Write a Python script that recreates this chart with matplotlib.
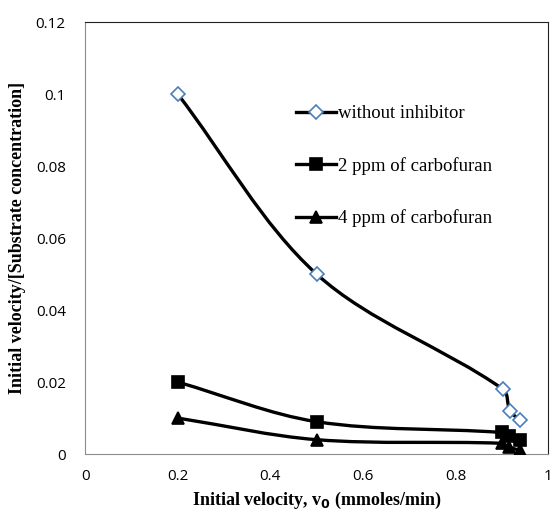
import numpy as np
import matplotlib
matplotlib.use("Agg")
import matplotlib.pyplot as plt
from matplotlib.path import Path
from matplotlib.patches import PathPatch
from matplotlib.lines import Line2D

# initial velocity (x) and velocity/[S] (y) for each series
x_none = [0.2, 0.5, 0.903, 0.918, 0.94]
y_none = [0.1, 0.05, 0.018, 0.012, 0.0094]

x_2ppm = [0.2, 0.5, 0.9, 0.915, 0.94]
y_2ppm = [0.02, 0.009, 0.006, 0.005, 0.004]

x_4ppm = [0.2, 0.5, 0.9, 0.915, 0.94]
y_4ppm = [0.01, 0.004, 0.003, 0.002, 0.001]

labels = ["without inhibitor", "2 ppm of carbofuran", "4 ppm of carbofuran"]
x_ticks = [0, 0.2, 0.4, 0.6, 0.8, 1]
y_ticks = [0, 0.02, 0.04, 0.06, 0.08, 0.1, 0.12]


def smooth_path(ax, xs, ys):
    """Bezier path through the points; tangents scaled by segment length in screen space."""
    trans = ax.transData
    pts = trans.transform(np.column_stack([xs, ys]))
    n = len(pts)
    d = np.hypot(*np.diff(pts, axis=0).T)
    tang = np.zeros_like(pts)
    for i in range(n):
        lo = max(i - 1, 0)
        hi = min(i + 1, n - 1)
        span = sum(d[lo:hi])
        tang[i] = (pts[hi] - pts[lo]) / span
    verts = [pts[0]]
    codes = [Path.MOVETO]
    for i in range(n - 1):
        c1 = pts[i] + tang[i] * d[i] / 3.0
        c2 = pts[i + 1] - tang[i + 1] * d[i] / 3.0
        verts += [c1, c2, pts[i + 1]]
        codes += [Path.CURVE4] * 3
    verts = trans.inverted().transform(np.array(verts))
    return Path(verts, codes)


fig = plt.figure(figsize=(5.54, 5.16), dpi=100)
ax = fig.add_axes([0.154, 0.12, 0.835, 0.837])
ax.set_xlim(0, 1)
ax.set_ylim(0, 0.12)

series = [
    (x_none, y_none, dict(marker="D", markerfacecolor="white", markeredgecolor="#4a7ebb", markersize=7)),
    (x_2ppm, y_2ppm, dict(marker="s", markerfacecolor="black", markeredgecolor="black", markersize=9)),
    (x_4ppm, y_4ppm, dict(marker="^", markerfacecolor="black", markeredgecolor="black", markersize=9)),
]

handles = []
for (xs, ys, mk), lab in zip(series, labels):
    ax.add_patch(PathPatch(smooth_path(ax, xs, ys), facecolor="none", edgecolor="black",
                           linewidth=2.4, zorder=2))
    ax.plot(xs, ys, linestyle="none", markeredgewidth=1.2, zorder=3, **mk)
    handles.append(Line2D([], [], color="black", linewidth=2.4, markeredgewidth=1.2, **mk))

ax.set_xticks(x_ticks)
ax.set_xticklabels(["0", "0.2", "0.4", "0.6", "0.8", "1"])
ax.set_yticks(y_ticks)
ax.set_yticklabels(["0", "0.02", "0.04", "0.06", "0.08", "0.1", "0.12"])
ax.tick_params(axis="x", length=0, labelsize=11, pad=11)
ax.tick_params(axis="y", length=0, labelsize=11, pad=14)
for t in ax.get_xticklabels() + ax.get_yticklabels():
    t.set_family("Open Sans")

for side in ["left", "bottom"]:
    ax.spines[side].set_color("#8c8c8c")
for side in ["top", "right"]:
    ax.spines[side].set_color("#222222")

ax.set_xlabel("Initial velocity, v$_\\mathbf{0}$ (mmoles/min)", fontsize=13,
              fontweight="bold", family="Liberation Serif", labelpad=4)
ax.set_ylabel("Initial velocity/[Substrate concentration]", fontsize=13,
              fontweight="bold", family="Liberation Serif", labelpad=7)

leg = ax.legend(handles, labels, loc="upper left", bbox_to_anchor=(0.436, 0.83),
                frameon=False, borderpad=0, handlelength=2.1, handletextpad=0.1,
                labelspacing=1.85, prop={"family": "Liberation Serif", "size": 13.5})

fig.savefig("out.png", dpi=100)
